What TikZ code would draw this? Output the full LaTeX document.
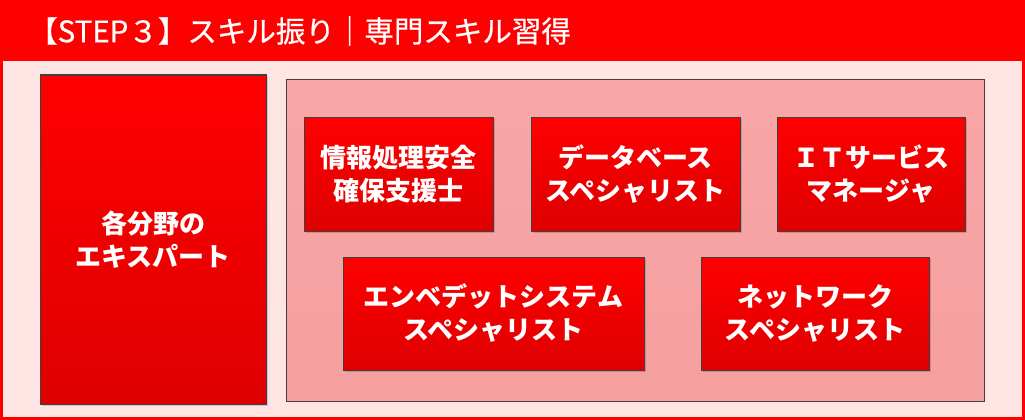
\documentclass[tikz,border=0pt]{standalone}
\usepackage{fontspec}
\setmainfont{Noto Sans CJK JP}
\newfontfamily\titlefont[FakeBold=0.6]{Noto Sans CJK JP}
\usetikzlibrary{shadows}
\definecolor{stepred}{RGB}{255,0,0}
\definecolor{darkred}{RGB}{222,0,0}
\definecolor{paleback}{RGB}{255,228,228}
\definecolor{panelpink}{RGB}{250,162,162}
\definecolor{edgegray}{RGB}{64,64,64}
\tikzset{skill/.style={rectangle, draw=edgegray, line width=1pt, top color=stepred, bottom color=darkred,
		text=white, font=\fontsize{26}{33}\selectfont\bfseries, align=center, inner sep=0pt,
		drop shadow={shadow xshift=2pt, shadow yshift=-2pt, fill=black, opacity=0.15}},
	panel/.style={rectangle, draw=edgegray, line width=1pt, top color=panelpink!95!white, bottom color=panelpink!98!black}}

\begin{document}
\begin{tikzpicture}[x=1pt,y=-1pt]
		\useasboundingbox (0,0) rectangle (1025,420);
		%		frame and title
		\node[rectangle, draw=stepred, line width=3pt, fill=paleback, minimum width=1022pt, minimum height=417pt, inner sep=0pt] (frame) at (512.5,210){};
		\node[rectangle, fill=stepred, minimum width=1025pt, minimum height=61pt, inner sep=0pt] (title) at (512.5,30.5){};
		\node[anchor=west, text=white, font=\titlefont\fontsize{29.5}{32}\selectfont, inner sep=0pt] (titletext) at (28,31){【STEP３】スキル振り｜専門スキル習得};
		\node[skill, minimum width=226pt, minimum height=329pt] (expert) at (153,239.5){各分野の\\エキスパート};
		\node[panel, minimum width=698pt, minimum height=322pt] (skills) at (635,240){};
		\node[skill, minimum width=189pt, minimum height=114pt] (sec) at (398.5,174){情報処理安全\\確保支援士};
		\node[skill, minimum width=209pt, minimum height=114pt] (db) at (635.5,174){データベース\\スペシャリスト};
		\node[skill, minimum width=188pt, minimum height=114pt] (itsm) at (871,174){ＩＴサービス\\マネージャ};
		\node[skill, minimum width=301pt, minimum height=113pt] (emb) at (493.5,313.5){エンベデットシステム\\スペシャリスト};
		\node[skill, minimum width=228pt, minimum height=113pt] (nw) at (815,313.5){ネットワーク\\スペシャリスト};
		\end{tikzpicture}
\end{document}
